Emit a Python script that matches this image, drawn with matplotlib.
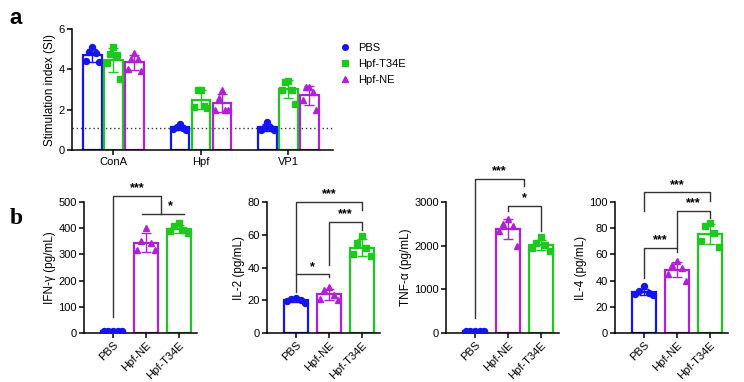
import matplotlib.pyplot as plt
import numpy as np

plt.rcParams['font.family'] = ['Liberation Sans', 'DejaVu Sans']

# Panel a: stimulation index, 5 mice per group
stim_groups = ['ConA', 'Hpf', 'VP1']
stim_series = ['PBS', 'Hpf-T34E', 'Hpf-NE']
stim_pbs = [[5.1, 4.85, 4.8, 4.4, 4.35], [1.3, 1.15, 1.1, 1.05, 1.0], [1.4, 1.1, 1.1, 1.0, 1.0]]
stim_t34e = [[5.1, 4.75, 4.7, 4.3, 3.5], [3.0, 3.0, 2.2, 2.15, 2.1], [3.4, 3.35, 3.0, 3.0, 2.3]]
stim_ne = [[4.8, 4.5, 4.5, 4.0, 3.9], [3.0, 2.6, 2.0, 2.0, 2.0], [3.1, 3.1, 2.9, 2.5, 2.0]]
stim_cutoff = 1.1

# Panel b: cytokines
cyto_groups = ['PBS', 'Hpf-NE', 'Hpf-T34E']
cyto_labels = ['IFN-γ (pg/mL)', 'IL-2 (pg/mL)', 'TNF-α (pg/mL)', 'IL-4 (pg/mL)']
ifn = [[9, 8, 8, 7, 7], [400, 350, 345, 315, 315], [418, 410, 395, 388, 380]]
il2 = [[21.5, 20.5, 20, 19.5, 18.5], [28, 26, 23, 21, 20], [59, 55, 52, 48, 47]]
tnf = [[45, 40, 40, 35, 35], [2620, 2500, 2450, 2330, 2000], [2200, 2060, 2010, 1950, 1880]]
il4 = [[35.5, 32, 30.5, 29.5, 29], [55, 52, 50, 45, 40], [84, 82, 76, 70, 66]]
cyto_ylims = [500, 80, 3000, 100]
cyto_ysteps = [100, 20, 1000, 20]
# brackets: (x1, x2, y line, left leg end, right leg end, label, label x)
cyto_brackets = [
    [(0, 1.45, 523, 60, 455, '***', 0.75), (0.88, 2.15, 455, 455, 455, '*', 1.75)],
    [(0, 2, 80, 36, 75, '***', 1.0), (1, 2, 67.8, 41.5, 62.8, '***', 1.5), (0, 1, 35.8, 25.3, 34, '*', 0.5)],
    [(0, 1.5, 3525, 344, 3365, '***', 0.75), (1, 2, 2906, 2792, 2334, '*', 1.5)],
    [(0, 2, 107.4, 93.4, 101, '***', 1.0), (1, 2, 93.4, 64.9, 87.8, '***', 1.5), (0, 1, 64.9, 42, 62, '***', 0.5)],
]

colors = {'PBS': '#1414f0', 'Hpf-T34E': '#1ec81e', 'Hpf-NE': '#b21fd8'}
markers = {'PBS': 'o', 'Hpf-T34E': 's', 'Hpf-NE': '^'}

W, H = 744, 382
fig = plt.figure(figsize=(W / 100, H / 100), dpi=100)


def px_axes(left, top, right, bottom):
    return fig.add_axes([left / W, 1 - bottom / H, (right - left) / W, (bottom - top) / H])


def style(ax):
    for s in ['top', 'right']:
        ax.spines[s].set_visible(False)
    for s in ['left', 'bottom']:
        ax.spines[s].set_linewidth(1.1)
    ax.tick_params(width=1.1, length=3.5, labelsize=8, pad=1.5)


def draw_bar(ax, x, vals, name, width, spread):
    vals = np.array(vals)
    m, sd = vals.mean(), vals.std(ddof=1)
    c = colors[name]
    ax.bar(x, m, width=width, facecolor='none', edgecolor=c, linewidth=1.6, zorder=2)
    ax.errorbar(x, m, yerr=sd, color=c, capsize=3.5, elinewidth=1.0, capthick=1.0, zorder=3)
    # highest point in the middle, lower ones pushed to the sides
    xs = x + spread * np.array([0, -0.5, 0.5, -1, 1])[:len(vals)]
    ax.plot(xs, vals, linestyle='none', marker=markers[name], color=c, ms=4.3, zorder=4)
    return m


# ---- panel a
axa = px_axes(72, 29, 333, 150)
style(axa)
xg = np.arange(len(stim_groups))
for k, (name, data) in enumerate(zip(stim_series, [stim_pbs, stim_t34e, stim_ne])):
    for i in range(len(stim_groups)):
        draw_bar(axa, xg[i] + (k - 1) * 0.24, data[i], name, 0.21, 0.075)
axa.axhline(stim_cutoff, color='#333333', linestyle=(0, (1, 2)), linewidth=1.0, zorder=1)
axa.set_xlim(-0.474, 2.51)
axa.set_ylim(0, 6)
axa.set_yticks([0, 2, 4, 6])
axa.set_xticks(xg)
axa.set_xticklabels(stim_groups)
axa.set_ylabel('Stimulation index (SI)', fontsize=8.5, labelpad=2)

handles = [plt.Line2D([], [], linestyle='none', marker=markers[n], color=colors[n], ms=4) for n in stim_series]
fig.legend(handles, stim_series, loc='upper left', bbox_to_anchor=(328 / W, 1 - 33 / H), frameon=False,
           fontsize=8, handletextpad=0.6, labelspacing=0.55, handlelength=1.2)

fig.text(9 / W, 1 - 18 / H, 'a', fontsize=16, fontweight='bold', va='center', ha='left',
         family='Liberation Sans')
fig.text(10 / W, 1 - 218 / H, 'b', fontsize=17, fontweight='bold', va='center', ha='left',
         family='Liberation Serif')

# ---- panel b
lefts = [84, 267, 446, 615]
datasets = [ifn, il2, tnf, il4]
for j in range(4):
    ax = px_axes(lefts[j], 202, lefts[j] + 113, 333)
    style(ax)
    for i, name in enumerate(cyto_groups):
        draw_bar(ax, i, datasets[j][i], name, 0.75, 0.28)
    ax.set_xlim(-0.88, 2.55)
    ax.set_ylim(0, cyto_ylims[j])
    ax.set_yticks(np.arange(0, cyto_ylims[j] + 1, cyto_ysteps[j]))
    ax.set_xticks(range(3))
    ax.set_xticklabels(cyto_groups, rotation=45, ha='right', rotation_mode='anchor')
    ax.set_ylabel(cyto_labels[j], fontsize=8.5, labelpad=2)
    for (x1, x2, y, l1, l2, lab, lx) in cyto_brackets[j]:
        ax.plot([x1, x1, x2, x2], [l1, y, y, l2], color='#333333', linewidth=1.0, clip_on=False, zorder=5)
        ax.text(lx, y + cyto_ylims[j] * 0.012, lab, ha='center', va='bottom', fontsize=9,
                fontweight='bold', clip_on=False)

fig.savefig('out.png', dpi=100)
